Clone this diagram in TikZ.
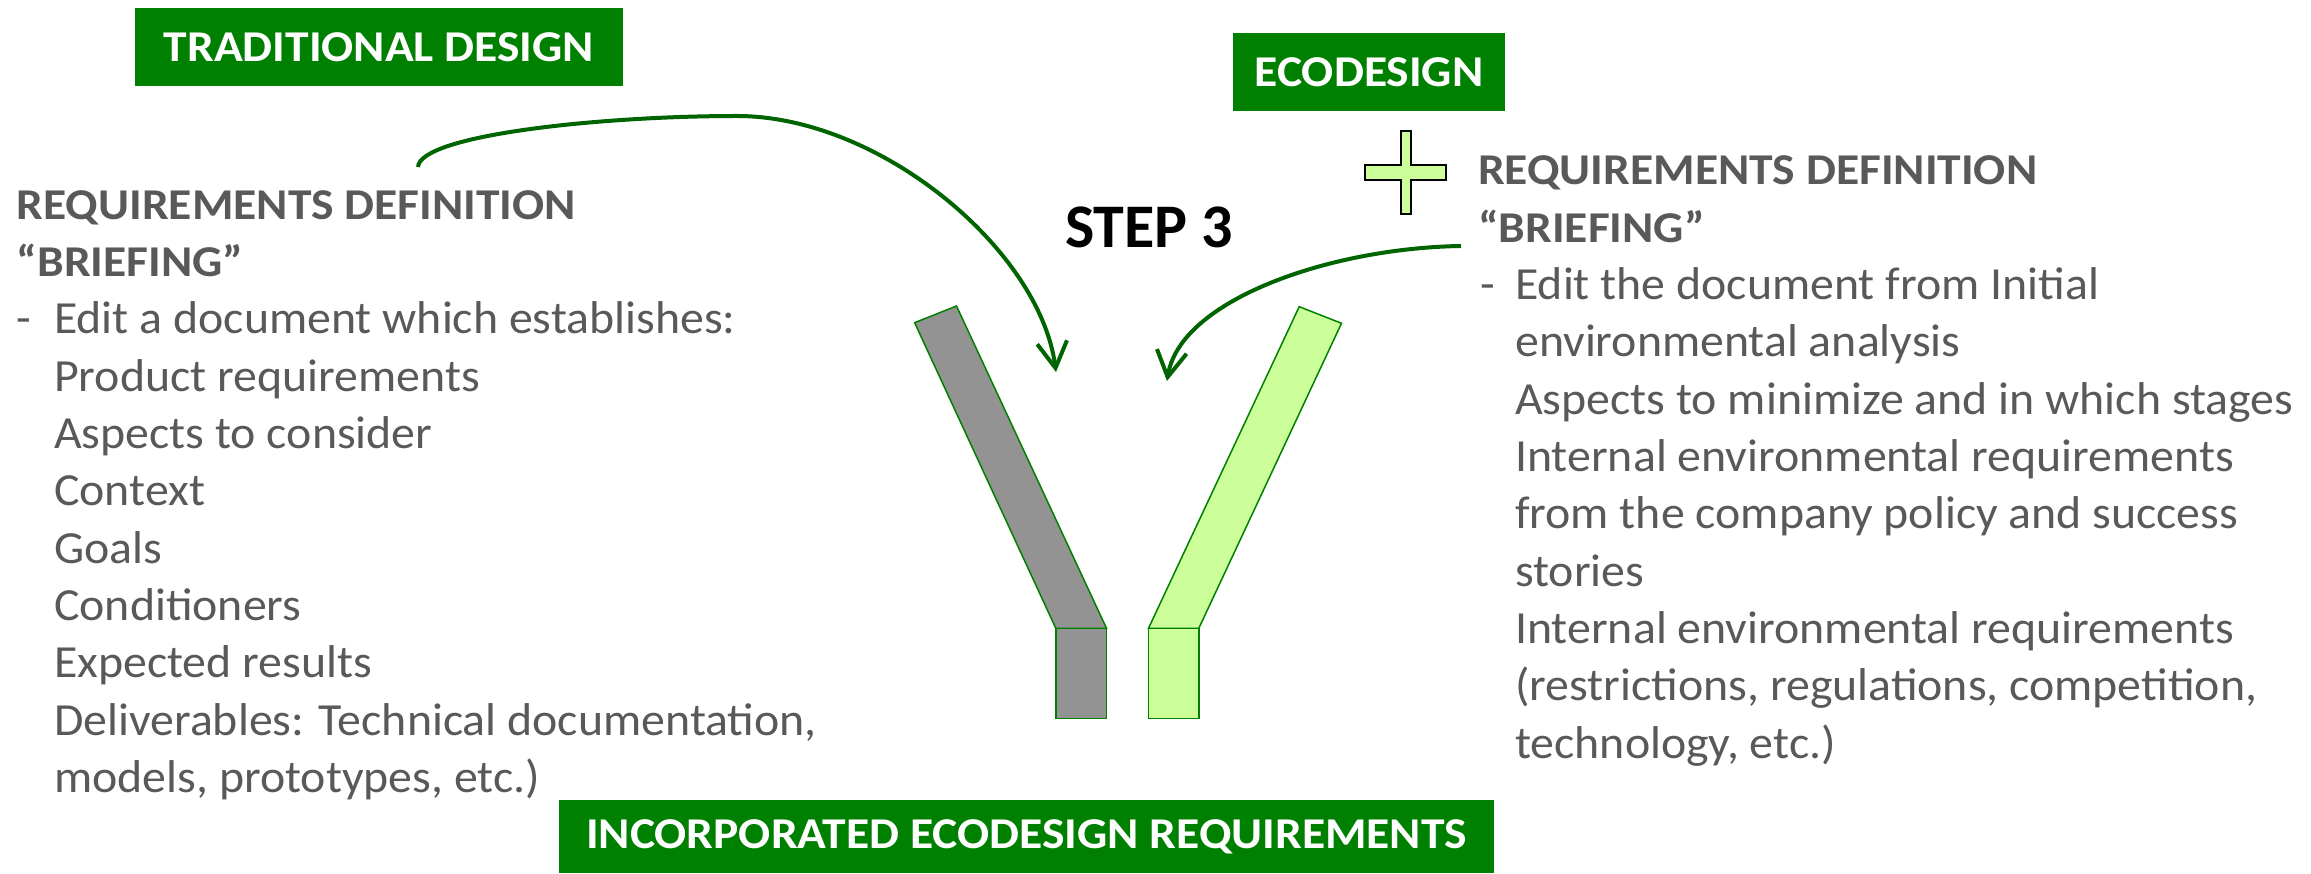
\documentclass[tikz,border=0pt]{standalone}
\usepackage{fontspec}
\setmainfont{Carlito}[FakeStretch=1.04]
\newfontfamily\titlefont{Carlito}[FakeStretch=1.08]
\newfontfamily\stepfont{Carlito}
\usetikzlibrary{arrows.meta}
\definecolor{boxgreen}{RGB}{0,128,0}
\definecolor{arrowgreen}{RGB}{0,100,0}
\definecolor{txtgray}{RGB}{89,89,89}
\definecolor{bargray}{RGB}{147,147,147}
\definecolor{lightgreen}{RGB}{204,255,153}
\tikzset{
  greenbox/.style={fill=boxgreen, text=white, inner sep=0pt, font=\titlefont\fontsize{44}{50}\selectfont\bfseries},
  bodytext/.style={anchor=base west, inner sep=0pt, text=txtgray, font=\fontsize{46}{50}\selectfont},
  titletext/.style={anchor=base west, inner sep=0pt, text=txtgray, font=\titlefont\fontsize{44}{50}\selectfont\bfseries},
  curvearrow/.style={draw=arrowgreen, line width=4pt, -{Straight Barb[length=26pt,width=30pt,line width=4pt]}},
  barshape/.style={draw=boxgreen, line width=1.5pt, line join=miter},
}
\begin{document}
\begin{tikzpicture}[x=1pt,y=-1pt]
\useasboundingbox (0,0) rectangle (2311,874);
% green label boxes
\node[greenbox, minimum width=488pt, minimum height=78pt] (trad) at (379,47) {TRADITIONAL DESIGN};
\node[greenbox, minimum width=272pt, minimum height=78pt] (eco) at (1369,72) {ECODESIGN};
\node[greenbox, minimum width=935pt, minimum height=73pt] (inc) at (1026.5,836.5) {INCORPORATED ECODESIGN REQUIREMENTS};
% STEP 3
\node[anchor=base west, inner sep=0pt, font=\stepfont\fontsize{62}{70}\selectfont\bfseries] (step) at (1065,248) {STEP 3};
% left text
\node[titletext] (lt1) at (16.5,219.5) {REQUIREMENTS DEFINITION};
\node[titletext] (lt2) at (16.5,276.8) {“BRIEFING”};
\node[bodytext] (ldash) at (16.5,334) {-};
\foreach \t [count=\i] in {{Edit a document which establishes:},{Product requirements},{Aspects to consider},{Context},{Goals},{Conditioners},{Expected results},{Deliverables: Technical documentation,},{models, prototypes, etc.)}}
  \node[bodytext] (l\i) at (54,{334+57.3*(\i-1)}) {\t};
% right text
\node[titletext] (rt1) at (1478,185) {REQUIREMENTS DEFINITION};
\node[titletext] (rt2) at (1478,242.3) {“BRIEFING”};
\node[bodytext] (rdash) at (1480,299.6) {-};
\foreach \t [count=\i] in {{Edit the document from Initial},{environmental analysis},{Aspects to minimize and in which stages},{Internal environmental requirements},{from the company policy and success},{stories},{Internal environmental requirements},{(restrictions, regulations, competition,},{technology, etc.)}}
  \node[bodytext] (r\i) at (1515,{299.6+57.3*(\i-1)}) {\t};
% plus sign
\draw[fill=lightgreen, draw=black, line width=2pt]
  (1400.7,130.7) -- (1411.3,130.7) -- (1411.3,165) -- (1446,165) -- (1446,180) -- (1411.3,180)
  -- (1411.3,214) -- (1400.7,214) -- (1400.7,180) -- (1365,180) -- (1365,165) -- (1400.7,165) -- cycle;
% Y shape
\draw[barshape, fill=bargray] (914.6,322.7) -- (956.5,306) -- (1106.5,628.3) -- (1055.8,628.3) -- cycle;
\draw[barshape, fill=bargray] (1055.8,628.3) rectangle (1106.5,718.3);
\draw[barshape, fill=lightgreen] (1299.2,306.7) -- (1341.5,323.3) -- (1198.8,628.3) -- (1148.5,628.3) -- cycle;
\draw[barshape, fill=lightgreen] (1148.5,628.3) rectangle (1198.8,718.3);
% arrows
\coordinate (la) at (418,167);
\coordinate (lp) at (737,116);
\coordinate (lt) at (1056,372);
\coordinate (ra) at (1461,246);
\coordinate (rt) at (1167,381);
\draw[curvearrow] (la) .. controls (420,135) and (600,116) .. (lp) .. controls (880,116) and (1040,250) .. (lt);
\draw[curvearrow] (ra) .. controls (1330,248) and (1180,300) .. (rt);
\end{tikzpicture}
\end{document}
